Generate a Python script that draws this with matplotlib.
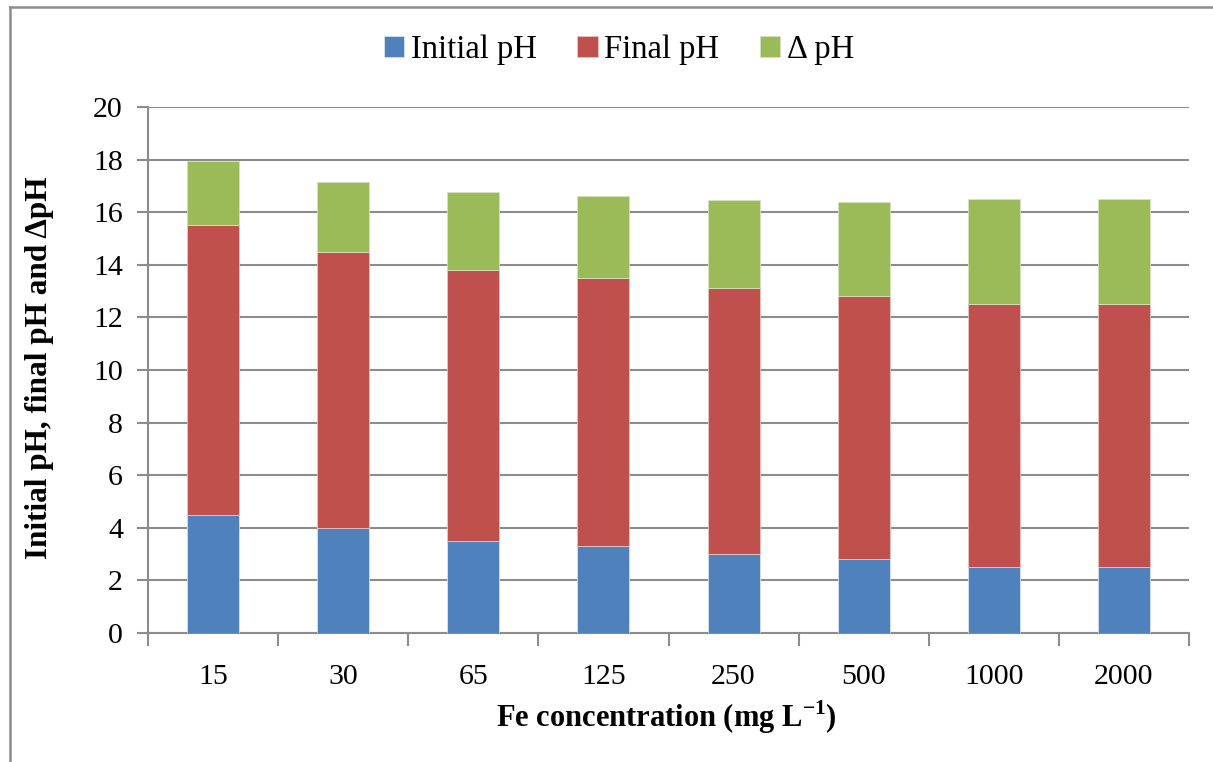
import matplotlib
matplotlib.use("Agg")
import matplotlib.pyplot as plt
from matplotlib.lines import Line2D
import numpy as np

categories = ["15", "30", "65", "125", "250", "500", "1000", "2000"]
initial_ph = [4.5, 4.0, 3.5, 3.3, 3.0, 2.8, 2.5, 2.5]
final_ph = [11.0, 10.5, 10.3, 10.2, 10.1, 10.0, 10.0, 10.0]
delta_ph = [2.45, 2.65, 2.95, 3.1, 3.35, 3.58, 4.0, 4.0]
yticks = [0, 2, 4, 6, 8, 10, 12, 14, 16, 18, 20]

plt.rcParams['font.family'] = ['Liberation Serif', 'DejaVu Serif']
plt.rcParams['mathtext.fontset'] = 'custom'
plt.rcParams['mathtext.rm'] = 'Liberation Serif'
plt.rcParams['mathtext.bf'] = 'Liberation Serif:bold'

W, H = 1213, 762
fig = plt.figure(figsize=(W / 100, H / 100), dpi=100)
ax = fig.add_axes([148 / W, 1 - 633 / H, (1189 - 148) / W, (633 - 107) / H])

x = np.arange(len(categories))
blue, red, green = "#4F81BD", "#C0504D", "#9BBB59"
bw = 0.4
ini = np.array(initial_ph)
fin = np.array(final_ph)
dl = np.array(delta_ph)
ax.bar(x, ini, bw, color=blue, label="Initial pH", zorder=3, edgecolor="#d8e2ef", linewidth=0.6)
ax.bar(x, fin, bw, bottom=ini, color=red, label="Final pH", zorder=3, edgecolor="#e8c4c3", linewidth=0.6)
ax.bar(x, dl, bw, bottom=ini + fin, color=green, label="Δ pH", zorder=3, edgecolor="#d4e3bd", linewidth=0.6)

ax.set_xlim(-0.5, len(categories) - 0.5)
ax.set_ylim(0, 20)
ax.set_yticks(yticks)
ax.yaxis.grid(True, color="#8c8c8c", linewidth=1.5, zorder=0)
ax.set_axisbelow(True)
for s in ["top", "right"]:
    ax.spines[s].set_visible(False)
for s in ["left", "bottom"]:
    ax.spines[s].set_color("#8c8c8c")
    ax.spines[s].set_linewidth(1.5)

ax.set_xticks(x)
ax.set_xticklabels(categories, fontsize=21.5)
ax.tick_params(axis="x", length=0, pad=22)
ax.set_xticks(np.arange(-0.5, len(categories) + 0.5, 1), minor=True)
ax.tick_params(axis="x", which="minor", length=9, color="#8c8c8c", width=1.5, direction="out")
ax.tick_params(axis="y", labelsize=21.5, length=8, color="#8c8c8c", width=1.5, pad=10)

fig.text(666 / W, 1 - 717 / H, "Fe concentration (mg L$^{\\mathbf{-1}}$)", fontsize=22,
         fontweight="bold", ha="center", va="center")
fig.text(40 / W, 1 - 368 / H, "Initial pH, final pH and ΔpH", fontsize=22.5,
         fontweight="bold", ha="center", va="center", rotation=90)

leg = fig.legend(loc="center", bbox_to_anchor=(619 / W, 1 - 50 / H), ncol=3, frameon=False,
                 fontsize=23.5, handlelength=0.62, handleheight=0.62, handletextpad=0.2,
                 columnspacing=1.25)

# outer chart border (left and top only, as cropped)
fig.add_artist(Line2D([10 / W, 10 / W], [0, 1 - 7 / H], transform=fig.transFigure, color="#8c8c8c", linewidth=1.8))
fig.add_artist(Line2D([10 / W, 1], [1 - 7 / H, 1 - 7 / H], transform=fig.transFigure, color="#8c8c8c", linewidth=1.8))

fig.savefig("out.png", dpi=100)
